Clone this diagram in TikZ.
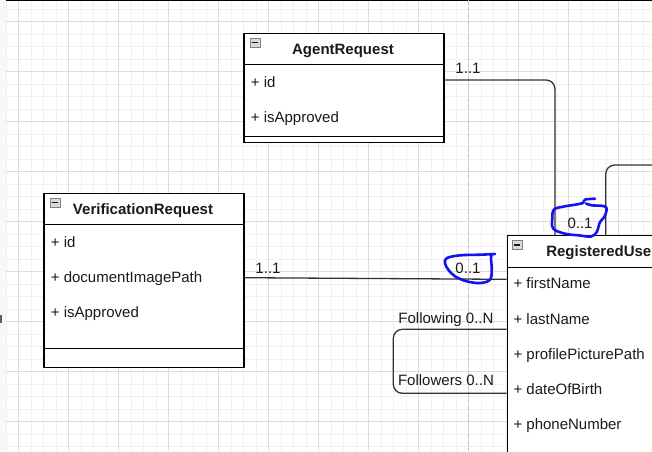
\documentclass[tikz,border=0pt]{standalone}
\usepackage{fontspec}
\setmainfont{Liberation Sans}
\definecolor{gridminor}{HTML}{F0F0F0}
\definecolor{gridmajor}{HTML}{DCDCDC}
\definecolor{ink}{HTML}{1A1A1A}
\definecolor{linec}{HTML}{333333}
\definecolor{scribble}{HTML}{1212F2}
\definecolor{strip}{HTML}{F8F8F8}
\begin{document}
\begin{tikzpicture}[x=1pt,y=-1pt,
  umlbox/.style={draw=black, line width=1.3pt, fill=white, rectangle, inner sep=0pt, anchor=north west},
  sep/.style={draw=black, line width=1.3pt},
  title/.style={font=\fontsize{15}{18}\selectfont\bfseries, text=ink, inner sep=0pt, text height=12.5pt, text depth=1.5pt},
  attr/.style={font=\fontsize{15}{18}\selectfont, text=ink, anchor=west, inner sep=0pt, text height=12.5pt, text depth=1.5pt},
  lbl/.style={font=\fontsize{15}{18}\selectfont, text=ink, inner sep=0pt, text height=12.5pt, text depth=1.5pt},
  conn/.style={draw=linec, line width=1.3pt, rounded corners=9pt},
  scrib/.style={draw=scribble, line width=2.6pt, line cap=round, line join=round},
  icon/.style={draw=gray, fill=gray!30, minimum width=10pt, minimum height=9pt, inner sep=0pt, line width=0.8pt,
    path picture={\draw[ink, line width=1.2pt] ([xshift=2pt]path picture bounding box.west) -- ([xshift=-2pt]path picture bounding box.east);}}
]
\path[use as bounding box] (0,0) rectangle (652,451);
\clip (0,0) rectangle (652,451);
% background and grid
\fill[white] (0,0) rectangle (652,451);
\fill[strip] (0,0) rectangle (6,451);
\foreach \i in {0,...,52} \draw[gridminor, line width=0.8pt] ({6+12.5*\i},0) -- ({6+12.5*\i},451);
\foreach \j in {0,...,36} \draw[gridminor, line width=0.8pt] (6,{9+12.5*\j}) -- (652,{9+12.5*\j});
\foreach \i in {0,...,12} \draw[gridmajor, line width=0.8pt] ({18.5+50*\i},0) -- ({18.5+50*\i},451);
\foreach \j in {0,...,8} \draw[gridmajor, line width=0.8pt] (6,{21.5+50*\j}) -- (652,{21.5+50*\j});
\draw[black, line width=1.2pt] (6,0.6) -- (652,0.6);
\draw[gray!45, line width=1pt, dash pattern=on 4pt off 3pt] (468,0) -- (468,451);
\fill[ink!70] (0,315) rectangle (1.5,323);

% AgentRequest
\node[umlbox, minimum width=200pt, minimum height=109.3pt] (agent) at (243.3,32.7) {};
\draw[sep] (243.3,64.3) -- (443.3,64.3);
\draw[sep] (243.3,136.7) -- (443.3,136.7);
\node[icon] (agentIcon) at (255,42.5) {};
\node[title] (agentTitle) at (343,49) {AgentRequest};
\node[attr] (agentId) at (250.7,81.7) {+ id};
\node[attr] (agentAppr) at (250.7,116.7) {+ isApproved};

% VerificationRequest
\node[umlbox, minimum width=200pt, minimum height=174pt] (verif) at (43.3,192.7) {};
\draw[sep] (43.3,224.3) -- (243.3,224.3);
\draw[sep] (43.3,348.3) -- (243.3,348.3);
\node[icon] (verifIcon) at (55,202.5) {};
\node[title] (verifTitle) at (143,209) {VerificationRequest};
\node[attr] (verifId) at (50.7,241.7) {+ id};
\node[attr] (verifDoc) at (50.7,276.7) {+ documentImagePath};
\node[attr] (verifAppr) at (50.7,311.7) {+ isApproved};

% RegisteredUser
\node[umlbox, minimum width=200pt, minimum height=260pt] (user) at (506.7,235) {};
\draw[sep] (506.7,267.3) -- (706.7,267.3);
\node[icon] (userIcon) at (517,245) {};
\node[title, anchor=east] (userTitle) at (651.5,251) {RegisteredUse};
\node[attr] (userFirst) at (513.3,283.3) {+ firstName};
\node[attr] (userLast) at (513.3,319) {+ lastName};
\node[attr] (userPic) at (513.3,354) {+ profilePicturePath};
\node[attr] (userBirth) at (513.3,389) {+ dateOfBirth};
\node[attr] (userPhone) at (513.3,424) {+ phoneNumber};

% connectors
\coordinate (kneeA) at (555,80);
\draw[conn] (agent.east |- kneeA) -- (kneeA) -- (user.north -| kneeA);
\coordinate (kneeB) at (605.7,165);
\coordinate (offB) at (670,165);
\draw[conn] (user.north -| kneeB) -- (kneeB) -- (offB);
\coordinate (vOut) at (243.3,277.7);
\coordinate (uInV) at (506.7,279.3);
\draw[conn] (verif.east |- vOut) -- (user.west |- uInV);
\coordinate (loopTop) at (393.3,329.3);
\coordinate (loopBot) at (393.3,393.3);
\draw[conn] (user.west |- loopTop) -- (loopTop) -- (loopBot) -- (user.west |- loopBot);

% multiplicity labels
\node[lbl] (mA1) at (468,68) {1..1};
\node[lbl] (mA2) at (580,222.7) {0..1};
\node[lbl] (mV1) at (268,268) {1..1};
\node[lbl] (mV2) at (468,268) {0..1};
\node[lbl] (mF1) at (446,318) {Following 0..N};
\node[lbl] (mF2) at (446,380) {Followers 0..N};

% hand-drawn blue marks
\draw[scrib] plot[smooth, tension=0.6] coordinates {(595,198.7) (585,199.6) (583,203) (575,204.7) (564,206.5) (554,209.5) (552.3,218.7) (553.3,228.7) (565,233.7) (578.3,235.3) (591,236.5) (596.7,232) (600,222) (604.3,217) (606.7,208.7) (603.3,206) (591.7,205.3) (586,203.5)};
\draw[scrib] plot[smooth, tension=0.6] coordinates {(495,254) (480,254.7) (460,255.3) (447,258) (445,263) (448.3,269.7) (455,276.3) (466.7,281.3) (480,283) (490,279.7) (491.7,269.7) (491,258) (491.7,254)};
\end{tikzpicture}
\end{document}
